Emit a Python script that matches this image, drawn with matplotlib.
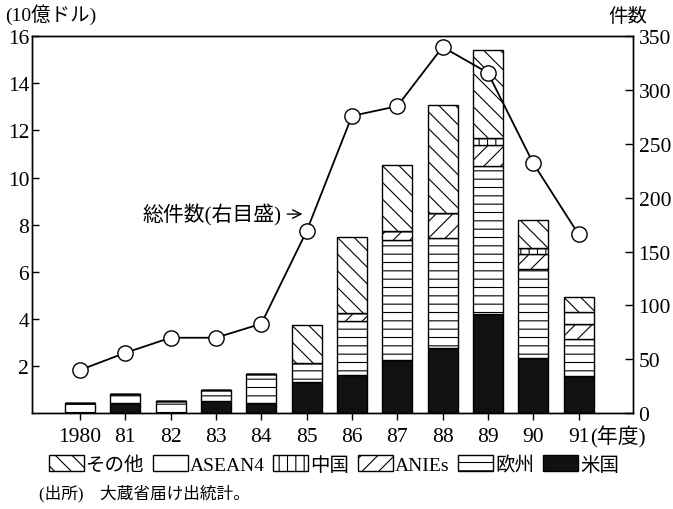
import numpy as np
import matplotlib
matplotlib.use("Agg")
import matplotlib.pyplot as plt
from matplotlib.patches import Patch

# -------------------------- SETTINGS ----------------------------
WIDTH = 6.73
HEIGHT = 5.10
DPI = 100
FONTS = ["Liberation Serif", "Noto Sans CJK JP"]

plt.rcParams["font.family"] = FONTS
plt.rcParams["hatch.linewidth"] = 0.8

# -------------------------- DATA ----------------------------
years = ["1980", "81", "82", "83", "84", "85", "86", "87", "88", "89", "90", "91"]

# 10億ドル, stacked from bottom
usa = [0.0, 0.43, 0.0, 0.5, 0.42, 1.33, 1.6, 2.25, 2.75, 4.2, 2.33, 1.57]
europe = [0.42, 0.4, 0.5, 0.5, 1.25, 0.78, 2.3, 5.1, 4.7, 6.3, 3.8, 1.57]
anies = [0, 0, 0, 0, 0, 0, 0.33, 0.4, 1.03, 0.88, 0.64, 0.63]
china = [0, 0, 0, 0, 0, 0, 0, 0, 0, 0.29, 0.24, 0]
asean4 = [0, 0, 0, 0, 0, 0, 0, 0, 0, 0, 0, 0.54]
other = [0, 0, 0, 0, 0, 1.63, 3.26, 2.77, 4.58, 3.76, 1.2, 0.61]

# 総件数 (right axis)
counts = [40, 56, 70, 70, 83, 169, 276, 285, 340, 316, 232, 166]

series = [
    ("米国", usa, "#111111", None),
    ("欧州", europe, "white", "--"),
    ("ANIEs", anies, "white", "//"),
    ("中国", china, "white", "||"),
    ("ASEAN4", asean4, "white", None),
    ("その他", other, "white", "\\\\"),
]

# -------------------------- FIGURE ----------------------------
fig = plt.figure(figsize=(WIDTH, HEIGHT), dpi=DPI)
ax = fig.add_axes([0.0475, 0.188, 0.893, 0.739])
ax2 = ax.twinx()

x = np.arange(len(years))
bottom = np.zeros(len(years))
for name, vals, color, hatch in series:
    vals = np.array(vals, dtype=float)
    ax.bar(x, vals, 0.66, bottom=bottom, color=color, edgecolor="black",
           hatch=hatch, linewidth=1.0, zorder=2)
    bottom += vals

ax2.plot(x, counts, color="black", lw=1.3, marker="o", markersize=11,
         markerfacecolor="white", markeredgecolor="black", mew=1.0, zorder=5)

ax.set_xlim(-1.06, 12.2)
ax.set_ylim(0, 16)
ax2.set_ylim(0, 350)

ax.set_xticks(x)
ax.set_xticklabels(years)
ax.set_yticks(np.arange(2, 17, 2))
ax2.set_yticks(np.arange(0, 351, 50))

ax.tick_params(axis="x", direction="out", length=5, width=1, pad=5, labelsize=15.5)
ax.tick_params(axis="y", direction="in", length=5, width=1, pad=2, labelsize=15.5)
ax2.tick_params(axis="y", direction="in", length=6, width=1, pad=4, labelsize=15.5)

for a in (ax, ax2):
    for s in a.spines.values():
        s.set_linewidth(1.0)

ax.text(11.25, -0.061, "(年度)", transform=ax.get_xaxis_transform(),
        ha="left", va="center", fontsize=15)

ax.annotate("総件数(右目盛)", xy=(4.97, 8.45), xytext=(4.45, 8.45),
            ha="right", va="center", fontsize=15,
            arrowprops=dict(arrowstyle="->", lw=1.0, color="black"))

fig.text(0.007, 0.972, "(10億ドル)", ha="left", va="center", fontsize=14)
fig.text(0.933, 0.967, "件数", ha="center", va="center", fontsize=14)

handles = [Patch(facecolor=c, edgecolor="black", hatch=h, linewidth=1.0)
           for _, _, c, h in series][::-1]
labels = [n for n, _, _, _ in series][::-1]
fig.legend(handles, labels, loc="center", bbox_to_anchor=(0.496, 0.087), ncol=6,
           frameon=False, fontsize=14, handlelength=1.8, handleheight=0.9,
           handletextpad=0.1, columnspacing=0.45, borderpad=0)

fig.text(0.058, 0.033, "(出所)　大蔵省届け出統計。", ha="left", va="center", fontsize=12)

fig.savefig("out.png", dpi=DPI)
